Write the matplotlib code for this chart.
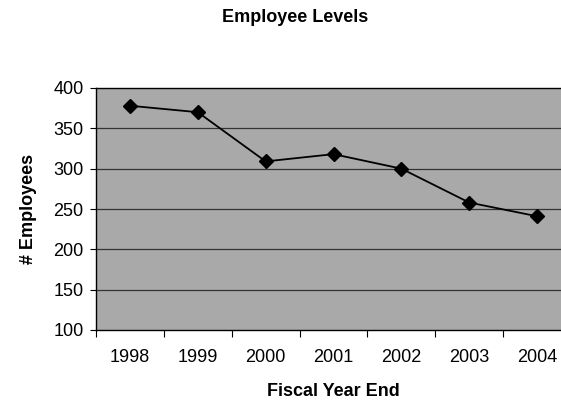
import matplotlib
matplotlib.use("Agg")
import matplotlib.pyplot as plt

years = ["1998", "1999", "2000", "2001", "2002", "2003", "2004"]
employees = [378, 370, 309, 318, 300, 258, 241]
yticks = [100, 150, 200, 250, 300, 350, 400]

plt.rcParams['font.family'] = ['Liberation Sans', 'DejaVu Sans']

fig = plt.figure(figsize=(5.61, 4.18), dpi=100)
ax = fig.add_axes([96/561, (418-330)/418, (571-96)/561, (330-88)/418])
ax.set_facecolor('#a9a9a9')

x = list(range(len(years)))
ax.plot(x, employees, color='black', lw=1.3, marker='D', markersize=7.5, zorder=3)

ax.set_xlim(-0.5, len(years) - 0.5)
ax.set_ylim(100, 400)
ax.set_yticks(yticks)
ax.set_yticklabels([str(v) for v in yticks], fontsize=13)
ax.set_xticks([i - 0.5 for i in range(len(years) + 1)])
ax.set_xticklabels([])
ax.set_xticks(x, minor=True)
ax.set_xticklabels(years, minor=True, fontsize=13)
ax.tick_params(axis='x', which='minor', length=0, pad=14)
ax.tick_params(axis='x', which='major', length=5, direction='out', color='black')
ax.tick_params(axis='y', length=4, direction='out', pad=5)

for v in yticks[1:-1]:
    ax.axhline(v, color='#333333', lw=0.9, zorder=1)

ax.spines['right'].set_visible(False)
for s in ['left', 'bottom', 'top']:
    ax.spines[s].set_color('black')
    ax.spines[s].set_linewidth(1.0)

ax.set_ylabel('# Employees', fontsize=13, fontweight='bold', labelpad=12)
ax.set_xlabel('Fiscal Year End', fontsize=13, fontweight='bold', labelpad=12)
fig.text(295/561, 1 - 18/418, 'Employee Levels', fontsize=13, fontweight='bold',
         ha='center', va='center')

fig.savefig('out.png', dpi=100, facecolor='white')
